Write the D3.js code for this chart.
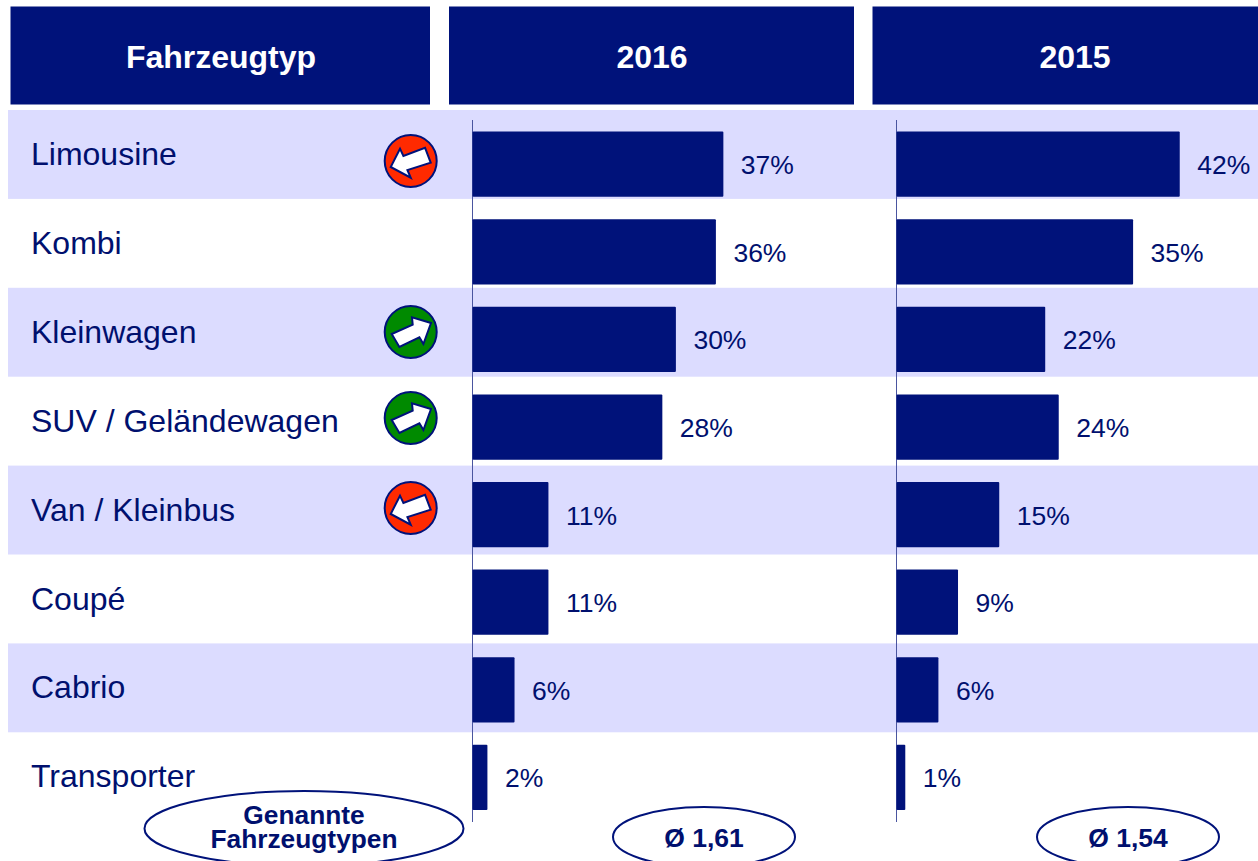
<!DOCTYPE html>
<html><head><meta charset="utf-8">
<script src="https://cdn.jsdelivr.net/npm/d3@7"></script>
<style>html,body{margin:0;padding:0;background:#fff;overflow:hidden}svg{display:block}text{font-family:"Liberation Sans",Arial,sans-serif}</style>
</head><body><svg id="c" width="1258" height="861"></svg>
<script>
const categories=["Limousine","Kombi","Kleinwagen","SUV / Geländewagen","Van / Kleinbus","Coupé","Cabrio","Transporter"];
const values2016=[37,35.9,30,28,11.2,11.2,6.2,2.2];
const values2015=[41.9,35,22,24,15.2,9.1,6.2,1.3];
const trends=["down",null,"up","up","down",null,null,null];
const headers=["Fahrzeugtyp","2016","2015"];
const averages=["Ø 1,61","Ø 1,54"];
const footLabel=["Genannte","Fahrzeugtypen"];

const navy="#00127a", band="#dcdcff", ink="#00106e";
const svg=d3.select("#c");
const idx=d3.range(categories.length);
const rowY=d3.scaleBand().domain(idx).range([110,821.2]).padding(0);
const barY=d3.scaleBand().domain(idx).range([131.6,810]).paddingInner(0.255).paddingOuter(0);
const x16=d3.scaleLinear().domain([0,100]).range([472.5,472.5+678]);
const x15=d3.scaleLinear().domain([0,100]).range([896.5,896.5+676]);
const pct=d3.format(".0f");

// row stripes
svg.append("g").selectAll("rect").data(idx.filter(i=>i%2===0)).join("rect")
  .attr("x",8).attr("width",1250).attr("y",i=>rowY(i)).attr("height",rowY.bandwidth()).attr("fill",band);

// headers
const hdr=[[10.5,430,headers[0]],[449,854,headers[1]],[872.5,1258,headers[2]]];
const hg=svg.append("g").selectAll("g").data(hdr).join("g");
hg.append("rect").attr("x",d=>d[0]).attr("y",6.5).attr("width",d=>d[1]-d[0]).attr("height",98).attr("fill",navy);
hg.append("text").attr("x",(d,i)=>[221,652,1075][i]).attr("y",68).attr("text-anchor","middle")
  .attr("fill","#fff").attr("font-weight","bold").attr("font-size",32).text(d=>d[2]);

// category labels
svg.append("g").selectAll("text").data(idx).join("text")
  .attr("x",31).attr("y",i=>rowY(i)+rowY.bandwidth()/2+10.6).attr("fill",ink).attr("font-size",32)
  .text(i=>categories[i]);

// bars
function series(x,vals){
  const g=svg.append("g");
  g.append("line").attr("x1",x(0)).attr("x2",x(0)).attr("y1",120).attr("y2",822).attr("stroke","#4a55a0").attr("stroke-width",1);
  g.selectAll("rect").data(idx).join("rect").attr("x",x(0)).attr("y",i=>barY(i)).attr("width",i=>x(vals[i])-x(0)).attr("height",barY.bandwidth()).attr("fill",navy).attr("rx",1);
  g.selectAll("text").data(idx).join("text").attr("x",i=>x(vals[i])+17.5).attr("y",i=>barY(i)+barY.bandwidth()/2+10)
    .attr("fill",ink).attr("font-size",26.5).text(i=>pct(vals[i])+"%");
}
series(x16,values2016);
series(x15,values2015);

// trend icons
const iconY=[161,null,332,418,508];
const shape={down:{fill:"#ff2a00",pts:[[14.3,-13.3],[20,1.7],[-3.3,9],[0,16.7],[-20,6],[-10.7,-12.3],[-7.3,-5]]},
             up:{fill:"#008a00",pts:[[-19,2],[-11.3,15],[8.7,5.3],[12.7,12],[20.3,-9],[1.3,-14.7],[2,-7.3]]}};
const ig=svg.append("g").selectAll("g").data(idx.filter(i=>trends[i])).join("g")
  .attr("transform",i=>`translate(410.7,${iconY[i]})`);
ig.append("circle").attr("r",26).attr("fill",i=>shape[trends[i]].fill).attr("stroke",navy).attr("stroke-width",2);
ig.append("polygon").attr("points",i=>shape[trends[i]].pts.map(p=>p.join(",")).join(" ")).attr("fill","#fff").attr("stroke",navy).attr("stroke-width",2);

// ellipses
const white="#fff";
svg.append("ellipse").attr("cx",304).attr("cy",828.5).attr("rx",159.5).attr("ry",37.5).attr("fill",white).attr("stroke",navy).attr("stroke-width",2);
footLabel.forEach((t,i)=>svg.append("text").attr("x",304).attr("y",[824,848][i]).attr("text-anchor","middle").attr("font-weight","bold").attr("font-size",26.3).attr("fill",ink).text(t));
[704,1128].forEach((cx,i)=>{
  svg.append("ellipse").attr("cx",cx).attr("cy",837).attr("rx",91).attr("ry",30).attr("fill",white).attr("stroke",navy).attr("stroke-width",2);
  svg.append("text").attr("x",cx).attr("y",847).attr("text-anchor","middle").attr("font-weight","bold").attr("font-size",26.5).attr("fill",ink).text(averages[i]);
});
</script></body></html>
